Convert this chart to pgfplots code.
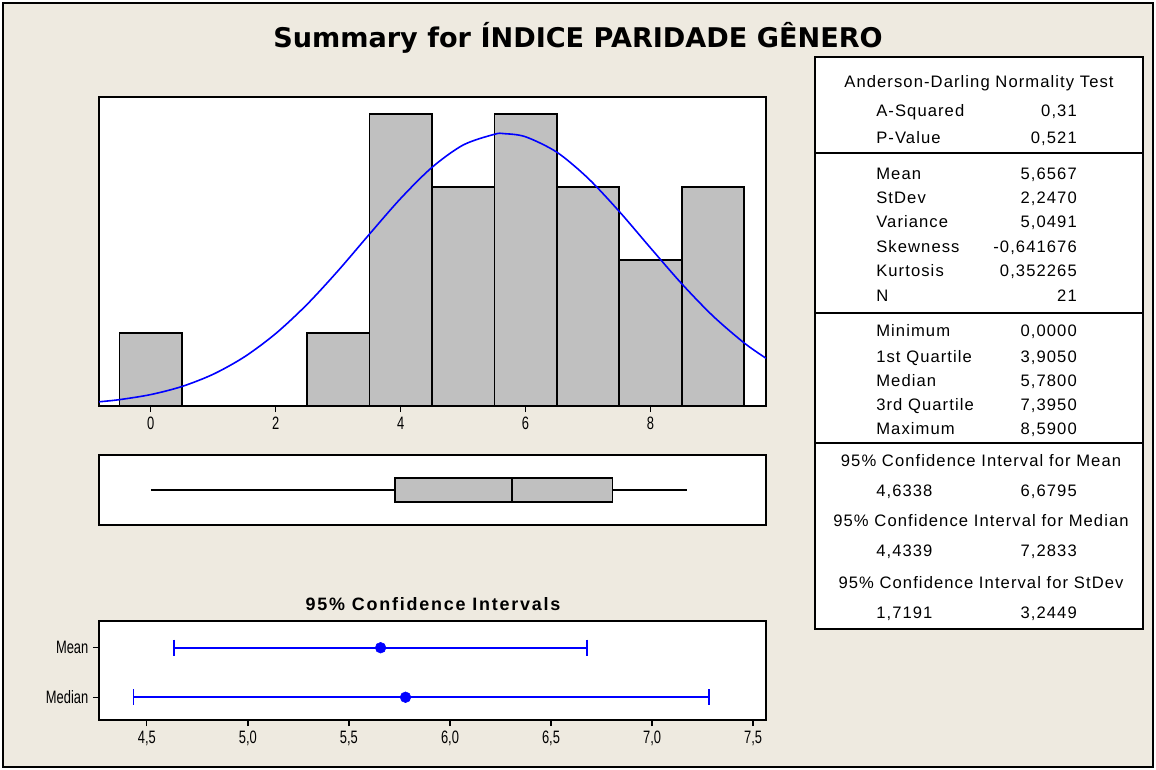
\documentclass[border=0pt]{standalone}
\usepackage{pgfplots}
\pgfplotsset{compat=1.18}
\usepackage{pgfplotstable}
\usepackage{fontspec}
\setmainfont{Liberation Sans}
\newfontfamily\titlefont{DejaVu Sans}
\newfontfamily\tablefont{Liberation Sans}[LetterSpace=6.5]
\newfontfamily\citfont{Liberation Sans}[LetterSpace=10]
\definecolor{bg}{RGB}{238,234,224}
\definecolor{bargray}{RGB}{192,192,192}

\pgfplotstableread{
x y
-0.5 1
0.5 0
1.5 0
2.5 1
3.5 4
4.5 3
5.5 4
6.5 3
7.5 2
8.5 3
9.5 0
}\histdata

\pgfplotsset{
  panel/.style={
    scale only axis,
    anchor=north west,
    axis background/.style={fill=white},
    axis line style={line width=1.3bp},
    tick style={black, line width=0.9bp},
    tick align=outside,
    major tick length=4.5bp,
    /pgf/number format/assume math mode=true,
  },
  narrowticks/.style={
    xticklabel style={font=\fontsize{13.5}{15}\selectfont},
    yticklabel style={font=\fontsize{13.5}{15}\selectfont},
  }
}

\begin{document}
\begin{tikzpicture}
\begin{scope}[x=0.75bp,y=-0.75bp]
\fill[white] (0,0) rectangle (1156,769);
\filldraw[fill=bg, draw=black, line width=1.5bp] (3,3) rectangle (1153,767);
\node[font=\titlefont\bfseries\fontsize{20.4}{24}\selectfont] at (578,38) {Summary for ÍNDICE PARIDADE GÊNERO};
\end{scope}

% Histogram
\begin{axis}[panel, narrowticks,
  at={(99*0.75bp,-97*0.75bp)},
  width=500.25bp, height=231.75bp,
  xmin=-0.83, xmax=9.85, ymin=0, ymax=4.23,
  ytick=\empty, xtick={0,2,4,6,8}, xtick pos=lower,
  xticklabel={\scalebox{0.72}[1]{\pgfmathprintnumber{\tick}}},
]
\addplot[ybar interval, fill=bargray, draw=black, line width=1.2bp] table[x=x,y=y] {\histdata};
\addplot[blue, line width=1.2bp, smooth, no markers] coordinates {
(-0.83,0.0578) (-0.5,0.0873) (0,0.1568) (0.5,0.2679) (1,0.4355) (1.5,0.6737)
(2,0.9919) (2.5,1.3899) (3,1.8536) (3.5,2.3524) (4,2.8411) (4.5,3.2658)
(5,3.5726) (5.5,3.7194) (5.6567,3.7285) (6,3.6853) (6.5,3.4749) (7,3.1184)
(7.5,2.6633) (8,2.1647) (8.5,1.6743) (9,1.2325) (9.5,0.8635) (9.85,0.6537)};
\end{axis}

% Boxplot
\begin{axis}[panel,
  at={(99*0.75bp,-455*0.75bp)},
  width=500.25bp, height=52.5bp,
  xmin=-0.83, xmax=9.85, ymin=-1, ymax=1,
  xtick=\empty, ytick=\empty,
]
\addplot[black, line width=1.2bp] coordinates {(0,0) (3.905,0)};
\addplot[black, line width=1.2bp] coordinates {(7.395,0) (8.59,0)};
\addplot[fill=bargray, draw=black, line width=1.2bp] coordinates {(3.905,-0.34) (7.395,-0.34) (7.395,0.34) (3.905,0.34)} -- cycle;
\addplot[black, line width=1.2bp] coordinates {(5.78,-0.34) (5.78,0.34)};
\end{axis}

% Confidence intervals
\begin{axis}[panel, narrowticks,
  at={(99*0.75bp,-621*0.75bp)},
  width=500.25bp, height=74.25bp,
  xmin=4.263, xmax=7.564, ymin=0.54, ymax=2.54,
  xtick={4.5,5,5.5,6,6.5,7,7.5}, xtick pos=lower,
  ytick={1,2}, ytick pos=left,
  yticklabels={\scalebox{0.72}[1]{Median},\scalebox{0.72}[1]{Mean}},
  xticklabel={\scalebox{0.72}[1]{\pgfmathprintnumber[fixed,fixed zerofill,precision=1,use comma]{\tick}}},
]
\addplot[blue, line width=1.5bp, mark=|, mark size=6bp, mark options={line width=1.2bp}] coordinates {(4.6338,2) (6.6795,2)};
\addplot[blue, line width=1.5bp, mark=|, mark size=6bp, mark options={line width=1.2bp}] coordinates {(4.4339,1) (7.2833,1)};
\addplot[only marks, blue, mark=*, mark size=4bp] coordinates {(5.6567,2) (5.78,1)};
\end{axis}

\begin{scope}[x=0.75bp,y=-0.75bp]
\node[font=\citfont\bfseries\fontsize{13.5}{15}\selectfont] at (433,604) {95\% Confidence Intervals};
% Table
\filldraw[fill=white, draw=black, line width=1.5bp] (815,57) rectangle (1143,629);
\draw[line width=1.5bp] (815,153) -- (1143,153);
\draw[line width=1.5bp] (815,313) -- (1143,313);
\draw[line width=1.5bp] (815,443) -- (1143,443);
\begin{scope}[every node/.style={font=\tablefont\fontsize{12.5}{14}\selectfont, inner sep=0pt}]
\node[anchor=mid] at (979,84) {Anderson-Darling Normality Test};
\foreach \y/\a/\b in {113/A-Squared/{0,31}, 140/P-Value/{0,521},
  176/Mean/{5,6567}, 200/StDev/{2,2470}, 224/Variance/{5,0491},
  249/Skewness/{-0,641676}, 273/Kurtosis/{0,352265}, 298/N/21,
  333/Minimum/{0,0000}, 359/1st Quartile/{3,9050}, 383/Median/{5,7800},
  407/3rd Quartile/{7,3950}, 431/Maximum/{8,5900}}{
  \node[anchor=mid west] at (876,\y) {\a};
  \node[anchor=mid east] at (1077,\y) {\b};
}
\node[anchor=mid] at (981,463) {95\% Confidence Interval for Mean};
\node[anchor=mid west] at (876,493) {4,6338};
\node[anchor=mid east] at (1077,493) {6,6795};
\node[anchor=mid] at (981,523) {95\% Confidence Interval for Median};
\node[anchor=mid west] at (876,553) {4,4339};
\node[anchor=mid east] at (1077,553) {7,2833};
\node[anchor=mid] at (981,585) {95\% Confidence Interval for StDev};
\node[anchor=mid west] at (876,615) {1,7191};
\node[anchor=mid east] at (1077,615) {3,2449};
\end{scope}
\end{scope}
\end{tikzpicture}
\end{document}
